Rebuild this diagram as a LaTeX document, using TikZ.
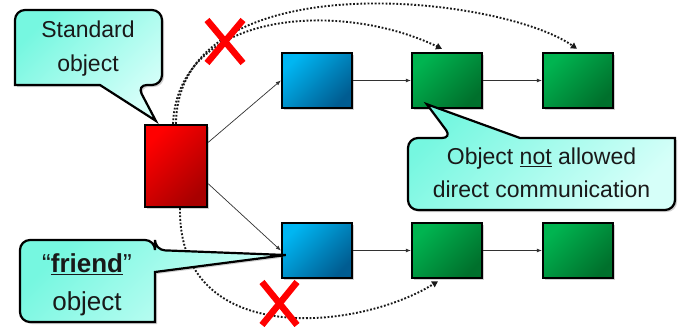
\documentclass[tikz,border=0pt]{standalone}
\usepackage{fontspec}
\setmainfont{Liberation Sans}
\usetikzlibrary{arrows.meta,shadows,calc}

\definecolor{noteA}{RGB}{118,247,224}
\definecolor{noteB}{RGB}{214,255,249}
\definecolor{redA}{RGB}{255,0,0}
\definecolor{redM}{RGB}{232,0,0}
\definecolor{redB}{RGB}{168,0,0}
\definecolor{blueA}{RGB}{0,182,242}
\definecolor{blueM}{RGB}{0,150,210}
\definecolor{blueB}{RGB}{0,92,145}
\definecolor{greenA}{RGB}{0,180,80}
\definecolor{greenM}{RGB}{0,160,70}
\definecolor{greenB}{RGB}{0,112,44}
\definecolor{linkgray}{RGB}{50,50,50}
\definecolor{crossred}{RGB}{255,0,0}

\tikzset{
  softshadow/.style={drop shadow={shadow xshift=2pt, shadow yshift=-2pt, opacity=0.3, fill=black!60}},
  objbox/.style n args={3}{rectangle, draw=black, line width=2.4pt,
    minimum width=70pt, minimum height=55pt, inner sep=0pt, softshadow,
    top color=#1, middle color=#2, bottom color=#3, shading angle=45},
  redobj/.style={objbox={redA}{redM}{redB}, minimum width=62pt, minimum height=82pt},
  blueobj/.style={objbox={blueA}{blueM}{blueB}},
  greenobj/.style={objbox={greenA}{greenM}{greenB}},
  link/.style={draw=linkgray, line width=0.7pt, -{Latex[length=5pt,width=4pt]}},
  noaccess/.style={draw=black!90, line width=1.9pt, dash pattern=on 1.8pt off 1.8pt,
    -{Triangle[length=6pt,width=6.5pt]}},
  notebox/.style={draw=black, line width=2.2pt, top color=noteA, bottom color=noteB,
    shading angle=45, softshadow},
  notetext/.style={align=center, inner sep=0pt, text=black!90,
    font=\fontsize{23}{34}\selectfont},
  crossmark/.style={draw=crossred, line width=6.5pt},
}

\begin{document}
\begin{tikzpicture}[x=1pt, y=-1pt]
  \fill[white] (0,0) rectangle (681,327);
  \useasboundingbox (0,0) rectangle (681,327);

  % objects
  \node[redobj]   (red)    at (176,166)   {};
  \node[blueobj]  (blueT)  at (317,80.5)  {};
  \node[greenobj] (greenT1) at (447,80.5) {};
  \node[greenobj] (greenT2) at (578,80.5) {};
  \node[blueobj]  (blueB)  at (317,250.5) {};
  \node[greenobj] (greenB1) at (447,250.5) {};
  \node[greenobj] (greenB2) at (578,250.5) {};

  % ordinary messages
  \draw[link] ($(red.north east)!0.22!(red.south east)$) -- (blueT.west);
  \draw[link] ($(red.north east)!0.71!(red.south east)$) -- (blueB.west);
  \draw[link] (blueT) -- (greenT1);
  \draw[link] (greenT1) -- (greenT2);
  \draw[link] (blueB) -- (greenB1);
  \draw[link] (greenB1) -- (greenB2);

  % forbidden direct access
  \draw[noaccess] ($(red.north)+(-3,0)$) .. controls (178,10) and (340,0) .. ($(greenT1.north)+(-5,-3)$);
  \draw[noaccess] ($(red.north)+(0,0)$) .. controls (178,-40) and (500,-5) .. ($(greenT2.north)+(-1,-3)$);
  \draw[noaccess] ($(red.south)+(4,0)$) .. controls (178,350) and (360,330) .. ($(greenB1.south)+(-9,2)$);

  % crosses over the forbidden paths
  \coordinate (crossT) at (225,41.5);
  \coordinate (crossB) at (279.5,303.5);
  \draw[crossmark] ($(crossT)+(-18,-21.5)$) -- ($(crossT)+(18,21.5)$);
  \draw[crossmark] ($(crossT)+(18,-21.5)$) -- ($(crossT)+(-18,21.5)$);
  \draw[crossmark] ($(crossB)+(-17.5,-21.5)$) -- ($(crossB)+(17.5,21.5)$);
  \draw[crossmark] ($(crossB)+(17.5,-21.5)$) -- ($(crossB)+(-17.5,21.5)$);

  % callouts
  \coordinate (stdTip) at ($(red.north west)+(12,-3)$);
  \path[notebox] (88,10) [rounded corners=10pt] -- (162,10) -- (162,85) -- (137,85)
    [sharp corners] -- (stdTip) -- (100,85) -- (15,85)
    [rounded corners=10pt] -- (15,10) -- cycle;
  \node[notetext] (stdNote) at (88,49) {Standard\\object};

  \coordinate (notTip) at ($(greenT1.south west)+(16,-5)$);
  \path[notebox] (541,210) [rounded corners=10pt] -- (408,210) -- (408,138) -- (452,138)
    [sharp corners] -- (notTip) -- (520,138) -- (675,138)
    [rounded corners=10pt] -- (675,210) -- cycle;
  \node[notetext, font=\fontsize{23}{33}\selectfont] (notNote) at (541.5,173)
    {Object \underline{not} allowed\\direct communication};

  \coordinate (friendTip) at ($(blueB.west)+(5,4.5)$);
  \path[notebox] (88,240) [rounded corners=10pt] -- (155,240) -- (155,250)
    [sharp corners] -- (friendTip) -- (155,272) -- (155,322)
    [rounded corners=10pt] -- (20,322) -- (20,240) -- cycle;
  \node[notetext, font=\fontsize{26}{38}\selectfont] (friendNote) at (87,284.5)
    {“\underline{\textbf{friend}}”\\object};
\end{tikzpicture}
\end{document}
